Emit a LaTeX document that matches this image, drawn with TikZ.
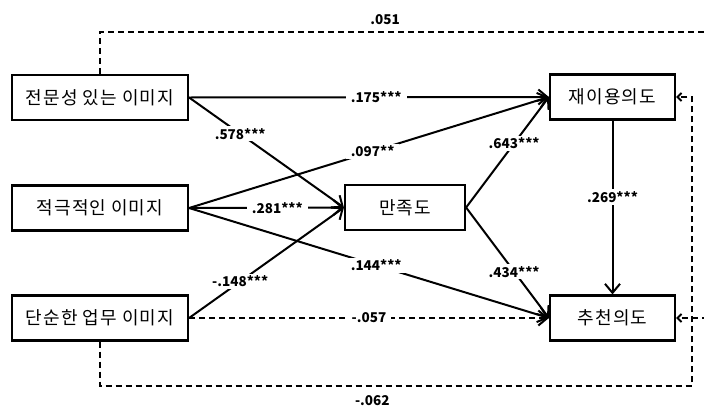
\documentclass[tikz,border=0pt]{standalone}
\usepackage{fontspec}
\setmainfont{Noto Sans CJK KR}
\newfontfamily\numfont{Noto Sans CJK KR}
\usetikzlibrary{arrows.meta}
\tikzset{%
  every var/.style={
    draw,
    line width=2.2pt,
    minimum height=45pt,
    inner sep=0pt,
    font=\fontsize{18}{18}\selectfont\addfontfeatures{LetterSpace=6}
  },
  var wide/.style={minimum width=176pt},
  var mid/.style={minimum width=120pt},
  var out/.style={minimum width=125pt},
  effect/.style={
    line width=2pt,
    -{Straight Barb[length=9pt,width=15pt,line width=2pt]}
  },
  null effect/.style={
    effect,
    dash pattern=on 6pt off 4pt
  },
  back effect/.style={
    null effect,
    -{Straight Barb[length=4pt,width=8pt,line width=2pt]}
  },
  coef/.style={
    fill=white,
    inner xsep=5pt,
    inner ysep=2pt,
    font=\numfont\bfseries\fontsize{13.5}{13.5}\selectfont
  },
}

\begin{document}
\begin{tikzpicture}[x=1pt, y=-1pt]
\useasboundingbox (0,0) rectangle (704,410);
\clip (0,0) rectangle (704,410);

\foreach \n/\t/\y in {pro/전문성 있는 이미지/97.5, act/적극적인 이미지/208, sim/단순한 업무 이미지/318}
  \node [every var, var wide] (\n) at (100,\y) {\t};

\node [every var, var mid] (sat) at (405,207.5) {만족도};
\node [every var, var out] (reuse) at (612.5,97) {재이용의도};
\node [every var, var out] (rec) at (612.5,318) {추천의도};

\foreach \a/\b/\c/\p in {pro/reuse/.175***/0.52, pro/sat/.578***/0.33,
    act/reuse/.097**/0.51, act/sat/.281***/0.57, act/rec/.144***/0.52,
    sim/sat/-.148***/0.33, sat/reuse/.643***/0.58, sat/rec/.434***/0.58}
  \draw [effect] (\a.east) -- node [coef, pos=\p] {\c} (\b.west);

\draw [effect] (reuse) -- node [coef, pos=0.44] {.269***} (rec);
\draw [null effect] (sim.east) -- node [coef, pos=0.5] {-.057} (rec.west);

% paths that run round the outside
\draw [back effect] (pro.north) |- node [coef, fill=none, above=4pt, pos=0.73] {.051} (720,32)
  |- (rec.east);
\draw [back effect] (sim.south) |- node [coef, fill=none, below=7pt, pos=0.73] {-.062} (692,386)
  |- (reuse.east);
\end{tikzpicture}
\end{document}
